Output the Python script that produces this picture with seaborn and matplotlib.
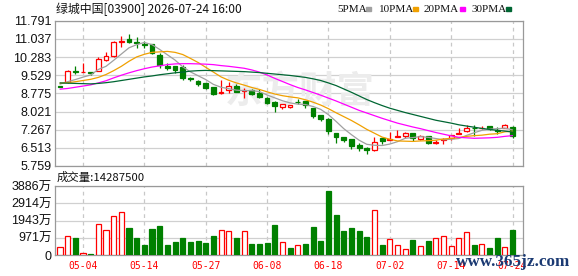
import numpy as np
import pandas as pd
import matplotlib
matplotlib.use('Agg')
import matplotlib.pyplot as plt
from matplotlib.patches import Rectangle
import seaborn as sns

# ---------------- data ----------------
title = '绿城中国[03900] 2026-07-24 16:00'
vol_title = '成交量:14287500'
date_labels = ['05-04', '05-14', '05-27', '06-08', '06-18', '07-02', '07-14', '07-24']
date_pos = [3, 11, 19, 27, 35, 43, 51, 59]
price_ticks = [5.759, 6.513, 7.267, 8.021, 8.775, 9.529, 10.283, 11.037, 11.791]
vol_ticks = [0, 971, 1943, 2914, 3886]
vol_tick_labels = ['0', '971万', '1943万', '2914万', '3886万']
legend_names = ['5PMA', '10PMA', '20PMA', '30PMA']

opens = [9.08, 9.23, 9.72, 9.66, 9.66, 9.71, 10.16, 10.31, 10.90, 11.04,
         10.92, 10.83, 10.82, 10.38, 9.91, 9.92, 9.88, 9.40, 9.29, 9.21,
         9.05, 8.78, 8.92, 9.09, 8.89, 8.91, 8.81, 8.60, 8.43, 8.21,
         8.20, 8.43, 8.46, 8.16, 7.88, 7.73, 7.12, 6.97, 6.88, 6.63,
         6.52, 6.41, 6.91, 6.85, 6.96, 7.00, 7.12, 6.87, 7.00, 6.72,
         6.84, 6.91, 7.10, 7.20, 7.35, 7.32, 7.41, 7.26, 7.33, 7.38]
highs = [9.10, 9.74, 9.92, 10.03, 9.68, 10.30, 10.51, 10.97, 11.17, 11.24,
         11.10, 10.96, 10.83, 10.47, 10.02, 9.93, 9.95, 9.47, 9.32, 9.22,
         9.06, 9.32, 9.25, 9.16, 9.02, 8.97, 8.95, 8.61, 8.44, 8.33,
         8.30, 8.53, 8.47, 8.17, 7.89, 7.74, 7.13, 6.98, 6.89, 6.73,
         6.53, 6.97, 6.92, 7.17, 7.26, 7.17, 7.13, 7.04, 7.01, 6.83,
         6.94, 7.05, 7.33, 7.45, 7.46, 7.40, 7.42, 7.38, 7.51, 7.40]
lows = [9.03, 9.21, 9.58, 9.65, 9.55, 9.70, 10.14, 10.29, 10.71, 10.85,
        10.68, 10.65, 10.40, 9.81, 9.74, 9.64, 9.34, 9.27, 9.09, 8.95,
        8.71, 8.77, 8.81, 8.82, 8.58, 8.70, 8.58, 8.33, 8.02, 8.12,
        8.18, 8.32, 8.16, 7.77, 7.63, 7.08, 6.73, 6.77, 6.48, 6.38,
        6.27, 6.40, 6.66, 6.84, 6.95, 6.94, 6.80, 6.83, 6.69, 6.66,
        6.69, 6.83, 7.09, 7.19, 7.00, 7.28, 7.24, 7.08, 7.32, 6.94]
closes = [9.05, 9.71, 9.65, 9.68, 9.63, 10.20, 10.34, 10.92, 10.95, 10.93,
          10.86, 10.80, 10.45, 9.95, 9.84, 9.74, 9.43, 9.37, 9.18, 9.02,
          8.77, 8.83, 9.07, 8.85, 8.92, 8.77, 8.63, 8.39, 8.25, 8.32,
          8.29, 8.41, 8.30, 7.84, 7.70, 7.22, 6.97, 6.83, 6.59, 6.52,
          6.41, 6.77, 6.78, 6.88, 6.99, 7.13, 6.91, 7.00, 6.71, 6.74,
          6.88, 7.04, 7.13, 7.34, 7.32, 7.35, 7.29, 7.23, 7.45, 7.00]
# volume in 万 shares
volumes = [472, 1080, 984, 131, 30, 1763, 1382, 2179, 2406, 1496,
           984, 586, 1439, 1610, 586, 757, 984, 717, 774, 700,
           1098, 1382, 1325, 984, 1325, 643, 643, 700, 1667, 757,
           415, 586, 643, 1553, 813, 3600, 2235, 1325, 1496, 1325,
           1041, 2520, 586, 888, 586, 358, 870, 529, 813, 984,
           1080, 529, 984, 1268, 586, 643, 415, 984, 472, 1428.75]
vol_up = [1, 1, 0, 1, 0, 1, 1, 1, 1, 0,
          0, 0, 0, 0, 0, 0, 0, 0, 0, 0,
          0, 1, 1, 0, 1, 0, 0, 0, 0, 1,
          0, 1, 0, 0, 0, 0, 0, 0, 0, 0,
          0, 1, 0, 1, 1, 1, 0, 1, 0, 1,
          1, 1, 1, 1, 0, 1, 0, 0, 1, 0]
ma5 = [9.16, 9.26, 9.35, 9.45, 9.54, 9.77, 9.90, 10.15, 10.41, 10.67,
       10.80, 10.89, 10.80, 10.60, 10.38, 10.16, 9.88, 9.67, 9.51, 9.35,
       9.15, 9.03, 8.97, 8.91, 8.89, 8.89, 8.85, 8.71, 8.59, 8.47,
       8.38, 8.33, 8.31, 8.23, 8.11, 7.89, 7.61, 7.31, 7.06, 6.83,
       6.66, 6.62, 6.61, 6.67, 6.77, 6.91, 6.94, 6.98, 6.95, 6.90,
       6.85, 6.87, 6.90, 7.03, 7.14, 7.24, 7.29, 7.31, 7.33, 7.26]
ma10 = [9.20, 9.22, 9.26, 9.31, 9.36, 9.44, 9.56, 9.72, 9.90, 10.11,
        10.29, 10.40, 10.48, 10.50, 10.52, 10.48, 10.39, 10.23, 10.06, 9.86,
        9.66, 9.46, 9.32, 9.21, 9.12, 9.02, 8.94, 8.84, 8.75, 8.68,
        8.63, 8.59, 8.51, 8.41, 8.29, 8.14, 7.97, 7.81, 7.65, 7.47,
        7.28, 7.12, 6.96, 6.87, 6.80, 6.79, 6.78, 6.80, 6.81, 6.83,
        6.88, 6.91, 6.94, 6.99, 7.02, 7.04, 7.08, 7.10, 7.18, 7.20]
ma20 = [8.95, 8.98, 9.03, 9.08, 9.13, 9.21, 9.30, 9.42, 9.53, 9.63,
        9.72, 9.80, 9.87, 9.92, 9.97, 10.00, 10.01, 10.01, 10.00, 9.99,
        9.97, 9.93, 9.90, 9.86, 9.82, 9.75, 9.66, 9.54, 9.40, 9.27,
        9.14, 9.02, 8.92, 8.81, 8.70, 8.58, 8.46, 8.33, 8.20, 8.07,
        7.96, 7.85, 7.74, 7.64, 7.54, 7.46, 7.38, 7.31, 7.23, 7.15,
        7.08, 7.01, 6.95, 6.93, 6.91, 6.92, 6.93, 6.95, 6.99, 7.02]
ma30 = [9.21, 9.20, 9.19, 9.18, 9.17, 9.19, 9.22, 9.26, 9.31, 9.36,
        9.41, 9.46, 9.50, 9.55, 9.59, 9.63, 9.66, 9.70, 9.72, 9.73,
        9.72, 9.71, 9.70, 9.69, 9.68, 9.66, 9.64, 9.61, 9.58, 9.55,
        9.52, 9.48, 9.44, 9.38, 9.31, 9.21, 9.10, 8.96, 8.82, 8.67,
        8.52, 8.39, 8.27, 8.16, 8.07, 7.98, 7.90, 7.82, 7.74, 7.66,
        7.60, 7.54, 7.47, 7.42, 7.37, 7.32, 7.28, 7.24, 7.21, 7.17]

# ---------------- style ----------------
RED = '#ff0000'
GREEN = '#008000'
ma_colors = ['#a0a0a0', '#f0a000', '#ff00ff', '#006633']

sns.set_style('white')
plt.rcParams['font.family'] = ['Liberation Sans', 'Noto Sans CJK SC', 'DejaVu Sans']

df = pd.DataFrame({'idx': np.arange(len(closes)), 'open': opens, 'high': highs,
                   'low': lows, 'close': closes, 'vol': volumes, 'vup': vol_up,
                   'ma5': ma5, 'ma10': ma10, 'ma20': ma20, 'ma30': ma30})

W, H = 578, 276
fig = plt.figure(figsize=(W / 100, H / 100), dpi=100)


def rect(l, t, r, b):
    return [l / W, 1 - b / H, (r - l) / W, (b - t) / H]


ax = fig.add_axes(rect(55, 20.8, 522.5, 166))
axv = fig.add_axes(rect(55, 186, 522.5, 255))

xlim = (-0.65, 60.3)

# ---- price panel ----
for col, c in zip(['ma5', 'ma10', 'ma20', 'ma30'], ma_colors):
    sns.lineplot(data=df, x='idx', y=col, ax=ax, color=c, lw=0.9, zorder=5,
                 legend=False)

up = df['close'] >= df['open']
cols = np.where(up, RED, GREEN)
faces = np.where(up, 'white', GREEN)
ax.vlines(df['idx'], df['low'], df['high'], colors=cols, lw=0.9, zorder=3)
ax.bar(df['idx'], (df['close'] - df['open']).abs(),
       bottom=np.minimum(df['open'], df['close']), width=0.62,
       color=faces, edgecolor=cols, linewidth=0.9, zorder=4)

ax.text(31.3, 8.84, '东方财富', fontsize=27, color='#ececec', ha='center',
        va='center', fontweight='bold', style='italic',
        family=['Noto Sans CJK SC'], zorder=1)

ax.set_xlim(*xlim)
ax.set_ylim(price_ticks[0], price_ticks[-1])
ax.set_yticks(price_ticks)
ax.set_yticklabels([f'{t:.3f}' for t in price_ticks], fontsize=9,
                   color='#111111')
ax.set_xticks(date_pos)
ax.set_xticklabels([])
ax.set_xlabel('')
ax.set_ylabel('')
ax.yaxis.grid(True, color='#d0d0d0', lw=0.9)
ax.xaxis.grid(True, color='#c8c8c8', lw=0.9, ls=(0, (3, 3)))
ax.set_axisbelow(True)
ax.tick_params(length=0, pad=2.5)

# ---- volume panel ----
vcols = np.where(df['vup'] == 1, RED, GREEN)
vfaces = np.where(df['vup'] == 1, 'white', GREEN)
axv.bar(df['idx'], df['vol'], width=0.66, color=vfaces, edgecolor=vcols,
        linewidth=0.9, zorder=3)
axv.set_xlim(*xlim)
axv.set_ylim(0, vol_ticks[-1])
axv.set_yticks(vol_ticks)
axv.set_yticklabels(vol_tick_labels, fontsize=9, color='#111111')
axv.set_xticks(date_pos)
axv.set_xticklabels(date_labels, fontsize=7, color=RED,
                    family=['DejaVu Sans Mono'])
axv.yaxis.grid(True, color='#d0d0d0', lw=0.9)
axv.xaxis.grid(True, color='#c8c8c8', lw=0.9, ls=(0, (3, 3)))
axv.set_axisbelow(True)
axv.tick_params(axis='y', length=0, pad=2.5)
axv.tick_params(axis='x', length=0, pad=4)

for a in (ax, axv):
    for s in a.spines.values():
        s.set_visible(True)
        s.set_color('#999999')
        s.set_linewidth(0.9)

# ---- texts ----
fig.text(56 / W, 1 - 9.5 / H, title, fontsize=8.6, va='center', ha='left',
         family=['Noto Sans CJK SC', 'DejaVu Sans'], color='#111111')
fig.text(57 / W, 1 - 177 / H, vol_title, fontsize=8.2, va='center', ha='left',
         family=['Noto Sans CJK SC', 'DejaVu Sans'], color='#111111')

leg_x = [337, 379, 424, 471]
sq_x = [366, 413, 460, 506]
for name, lx, sx, c in zip(legend_names, leg_x, sq_x, ma_colors):
    fig.text(lx / W, 1 - 9.5 / H, name, fontsize=8, va='center', ha='left',
             family=['Liberation Serif'], color='#111111')
    fig.patches.append(Rectangle((sx / W, 1 - 11 / H), 5 / W, 4 / H,
                                 transform=fig.transFigure, color=c,
                                 figure=fig))

fig.text(513 / W, 1 - 262 / H, 'www.365jz.com', fontsize=12.3, va='center',
         ha='center', family=['Liberation Serif'], fontweight='bold',
         color='#1b3a73', zorder=10)

fig.savefig('out.png', dpi=100)
